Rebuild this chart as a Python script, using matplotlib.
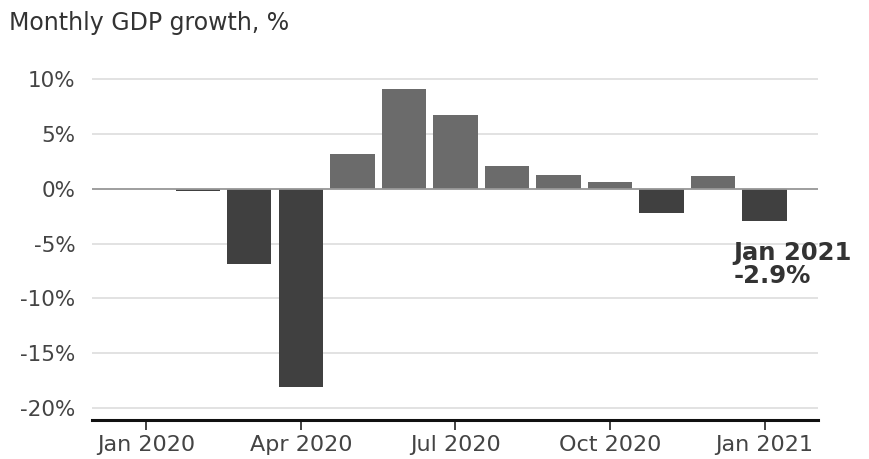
import numpy as np
import matplotlib.pyplot as plt

# monthly GDP growth, %
months = ['Jan 2020', 'Feb 2020', 'Mar 2020', 'Apr 2020', 'May 2020', 'Jun 2020',
          'Jul 2020', 'Aug 2020', 'Sep 2020', 'Oct 2020', 'Nov 2020', 'Dec 2020', 'Jan 2021']
growth = [0.0, -0.2, -6.9, -18.1, 3.2, 9.1, 6.7, 2.1, 1.3, 0.6, -2.2, 1.2, -2.9]
tick_labels = ['Jan 2020', 'Apr 2020', 'Jul 2020', 'Oct 2020', 'Jan 2021']
y_ticks = [10, 5, 0, -5, -10, -15, -20]

plt.rcParams['font.family'] = ['DejaVu Sans']

fig = plt.figure(figsize=(8.69, 4.59), dpi=100)
ax = fig.add_axes([0.106, 0.085, 0.835, 0.79])

x = np.arange(len(months))
colors = ['#6b6b6b' if v > 0 else '#404040' for v in growth]
ax.bar(x, growth, width=0.86, color=colors, zorder=3)

for t in y_ticks:
    ax.axhline(t, color='#dddddd', lw=1.2, zorder=1)
ax.axhline(0, color='#999999', lw=1.3, zorder=4)

ax.set_xlim(-1.05, 13.03)
ax.set_ylim(-21.1, 12)
ax.set_yticks(y_ticks)
ax.set_yticklabels([f'{t}%' for t in y_ticks], fontsize=15.5, color='#444444')
ax.set_xticks(x[::3])
ax.set_xticklabels(tick_labels, fontsize=16, color='#444444')
ax.tick_params(axis='y', length=0, pad=12)
ax.tick_params(axis='x', length=7, width=1.2, color='#222222', pad=4)

for s in ['top', 'right', 'left']:
    ax.spines[s].set_visible(False)
ax.spines['bottom'].set_linewidth(2.2)
ax.spines['bottom'].set_color('#111111')

ax.text(11.4, -4.8, 'Jan 2021\n-2.9%', fontsize=17.5, fontweight='bold',
        color='#333333', va='top', ha='left', linespacing=0.95, zorder=5)

fig.text(0.01, 0.975, 'Monthly GDP growth, %', fontsize=17, color='#333333', va='top')

fig.savefig('out.png', dpi=100)
